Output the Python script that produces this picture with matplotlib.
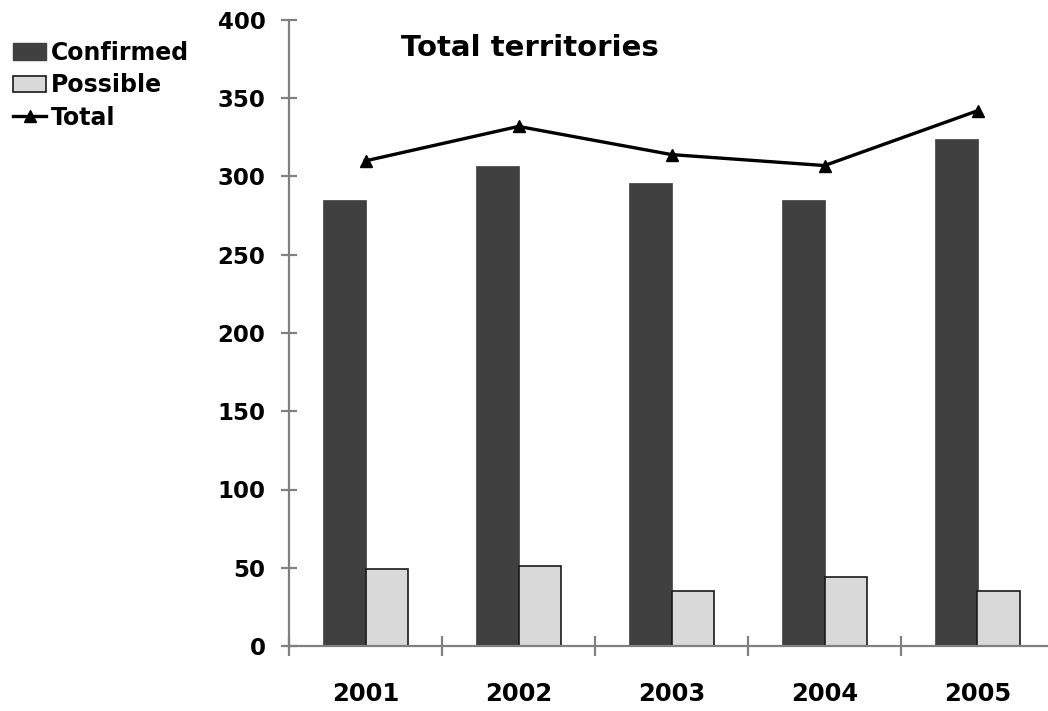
import numpy as np
import matplotlib.pyplot as plt
from matplotlib.patches import Patch
from matplotlib.lines import Line2D

# values
years = ['2001', '2002', '2003', '2004', '2005']
confirmed = [285, 307, 296, 285, 324]
possible = [49, 51, 35, 44, 35]
total = [310, 332, 314, 307, 342]

plt.rcParams['font.family'] = 'DejaVu Sans'
plt.rcParams['font.weight'] = 'bold'

fig = plt.figure(figsize=(10.48, 7.11), dpi=100)
ax = fig.add_axes([289 / 1048, 1 - 646 / 711, 765 / 1048, 626 / 711])

x = np.arange(len(years))
w = 0.28
ax.bar(x - w / 2, confirmed, width=w, color='#404040', edgecolor='#404040', linewidth=0.5, zorder=2)
ax.bar(x + w / 2, possible, width=w, color='#d9d9d9', edgecolor='#1a1a1a', linewidth=1.2, zorder=2)
ax.plot(x, total, color='black', linewidth=2.4, marker='^', markersize=9,
        markerfacecolor='black', markeredgecolor='black', zorder=3)

ax.set_xlim(-0.5, len(years) - 0.5)
ax.set_ylim(0, 400)
ax.set_yticks(np.arange(0, 401, 50))

# category boundaries as major ticks, labels on minor ticks at the centres
ax.set_xticks(np.arange(-0.5, len(years), 1.0))
ax.set_xticklabels([])
ax.set_xticks(x, minor=True)
ax.set_xticklabels(years, minor=True)

for s in ['top', 'right']:
    ax.spines[s].set_visible(False)
for s in ['left', 'bottom']:
    ax.spines[s].set_color('#808080')
    ax.spines[s].set_linewidth(1.6)

ax.tick_params(axis='y', which='major', direction='inout', length=12, width=1.6,
               color='#808080', labelsize=16.5, pad=11)
ax.tick_params(axis='x', which='major', direction='inout', length=14, width=1.6,
               color='#808080')
ax.tick_params(axis='x', which='minor', length=0, labelsize=17.5, pad=26)
for lbl in ax.get_yticklabels() + ax.get_xticklabels(minor=True):
    lbl.set_fontweight('bold')

fig.text(401 / 1048, 1 - 56 / 711, 'Total territories', fontsize=21,
         fontweight='bold', ha='left', va='baseline')

handles = [Patch(facecolor='#404040', edgecolor='#404040'),
           Patch(facecolor='#d9d9d9', edgecolor='#1a1a1a', linewidth=1.2),
           Line2D([], [], color='black', linewidth=2.4, marker='^', markersize=9)]
fig.legend(handles, ['Confirmed', 'Possible', 'Total'], loc='upper left',
           bbox_to_anchor=(13 / 1048, 1 - 41 / 711), frameon=False,
           borderaxespad=0, borderpad=0, handlelength=1.4, handletextpad=0.2,
           labelspacing=0.35, prop={'size': 17, 'weight': 'bold'})

fig.savefig('out.png', dpi=100)
